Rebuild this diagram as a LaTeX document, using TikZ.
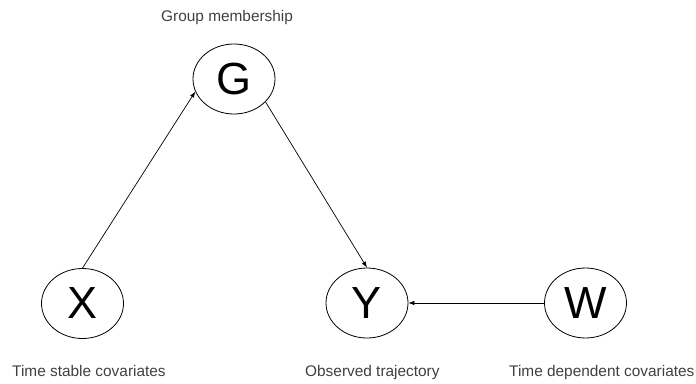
\documentclass[tikz,border=0pt]{standalone}
\usepackage{fontspec}
\setmainfont{Liberation Sans}
\usetikzlibrary{arrows.meta,shapes.geometric}

\tikzset{
  var/.style={draw, ellipse, line width=0.8pt, minimum width=82pt, minimum height=70pt, inner sep=0pt,
    font=\fontsize{45}{50}\selectfont},
  caption/.style={anchor=base west, inner sep=0pt, text=black!75, font=\fontsize{15.4}{18}\selectfont},
  link/.style={line width=0.7pt, -{Latex[length=6pt,width=4.5pt]}}
}

\begin{document}
\begin{tikzpicture}[x=1pt,y=-1pt]
      \useasboundingbox (0,0) rectangle (696,383);

      \node [var] (G) at (234,79) {G};
      \node [var] (X) at (82.5,303.5) {X};
      \node [var] (Y) at (367,303) {Y};
      \node [var] (W) at (585.5,303) {W};

      \node [caption] (Gtext) at (161,21) {Group membership};
      \node [caption] (Xtext) at (12,376) {Time stable covariates};
      \node [caption] (Ytext) at (305,376) {Observed trajectory};
      \node [caption] (Wtext) at (509,376) {Time dependent covariates};

      \draw [link] (X.north) -- (G.198);
      \draw [link] (G.-36) -- (Y.north);
      \draw [link] (W.west) -- (Y.east);
    \end{tikzpicture}
\end{document}
